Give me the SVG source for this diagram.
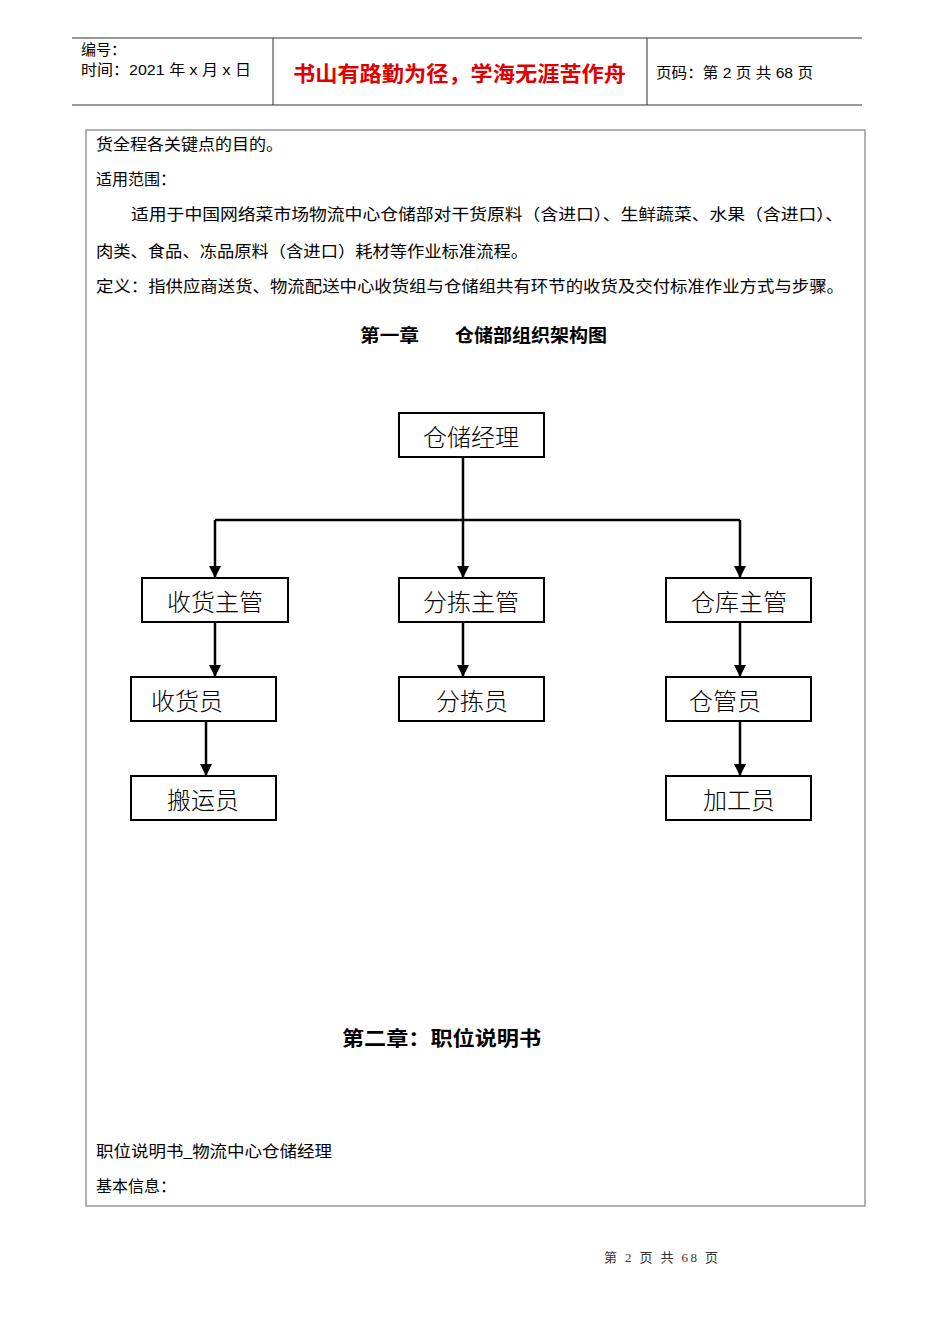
<svg xmlns="http://www.w3.org/2000/svg" width="950" height="1344" viewBox="0 0 950 1344">
<style>
.t{font-family:"Liberation Serif","Noto Sans CJK SC",serif;fill:#000;}
.s{font-family:"Liberation Sans","Noto Sans CJK SC",sans-serif;fill:#000;}
.body{font-size:16px;}
.node rect{fill:#fff;stroke:#000;stroke-width:2;}
.node text{font-family:"Liberation Serif","Noto Sans CJK SC",serif;font-size:24px;font-weight:300;fill:#000;}
.conn path{fill:none;stroke:#000;stroke-width:2.5;}
</style>
<defs>
<marker id="ah" markerWidth="12" markerHeight="12" viewBox="0 0 12 12" refX="12" refY="6" orient="auto" markerUnits="userSpaceOnUse">
<path d="M0,0 L12,6 L0,12 z" fill="#000"/>
</marker>
</defs>
<rect x="0" y="0" width="950" height="1344" fill="#fff"/>
<g id="header">
<line x1="72" y1="38" x2="862" y2="38" stroke="#333" stroke-width="1"/>
<line x1="72" y1="105" x2="862" y2="105" stroke="#333" stroke-width="1"/>
<line x1="273" y1="38" x2="273" y2="105" stroke="#333" stroke-width="1"/>
<line x1="647" y1="38" x2="647" y2="105" stroke="#333" stroke-width="1"/>
<text class="s" x="81" y="55" font-size="15">编号：</text>
<text class="s" x="81" y="75" font-size="15" textLength="170" lengthAdjust="spacingAndGlyphs">时间：2021 年 x 月 x 日</text>
<text class="s" x="293" y="81" font-size="21" font-weight="bold" style="fill:#e00000" textLength="333" lengthAdjust="spacingAndGlyphs">书山有路勤为径，学海无涯苦作舟</text>
<text class="s" x="656" y="78" font-size="15" textLength="157" lengthAdjust="spacingAndGlyphs">页码：第 2 页  共 68 页</text>
</g>
<rect x="86" y="130" width="779" height="1076" fill="none" stroke="#666" stroke-width="1"/>
<g id="intro">
<text class="t body" x="96" y="150" textLength="187" lengthAdjust="spacingAndGlyphs">货全程各关键点的目的。</text>
<text class="t body" x="96" y="185">适用范围：</text>
<text class="t body" x="131" y="220" textLength="712" lengthAdjust="spacingAndGlyphs">适用于中国网络菜市场物流中心仓储部对干货原料（含进口）、生鲜蔬菜、水果（含进口）、</text>
<text class="t body" x="96" y="257" textLength="432" lengthAdjust="spacingAndGlyphs">肉类、食品、冻品原料（含进口）耗材等作业标准流程。</text>
<text class="t body" x="96" y="292" textLength="748" lengthAdjust="spacingAndGlyphs">定义：指供应商送货、物流配送中心收货组与仓储组共有环节的收货及交付标准作业方式与步骤。</text>
<text class="t" x="360" y="342" font-size="18" font-weight="bold" textLength="59" lengthAdjust="spacingAndGlyphs">第一章</text>
<text class="t" x="455" y="342" font-size="18" font-weight="bold" textLength="152" lengthAdjust="spacingAndGlyphs">仓储部组织架构图</text>
</g>
<g id="connectors" class="conn">
<path d="M463,457 V578" marker-end="url(#ah)"/>
<path d="M215,520 H740"/>
<path d="M215,520 V578" marker-end="url(#ah)"/>
<path d="M740,520 V578" marker-end="url(#ah)"/>
<path d="M215,622 V677" marker-end="url(#ah)"/>
<path d="M463,622 V677" marker-end="url(#ah)"/>
<path d="M740,622 V677" marker-end="url(#ah)"/>
<path d="M206,721 V776" marker-end="url(#ah)"/>
<path d="M740,721 V776" marker-end="url(#ah)"/>
</g>
<g id="n_manager" class="node"><rect x="399" y="413" width="145" height="44"/><text x="471" y="446" text-anchor="middle">仓储经理</text></g>
<g id="n_recv_sup" class="node"><rect x="142" y="578" width="146" height="44"/><text x="215" y="611" text-anchor="middle">收货主管</text></g>
<g id="n_sort_sup" class="node"><rect x="399" y="578" width="145" height="44"/><text x="471" y="611" text-anchor="middle">分拣主管</text></g>
<g id="n_wh_sup" class="node"><rect x="666" y="578" width="145" height="44"/><text x="739" y="611" text-anchor="middle">仓库主管</text></g>
<g id="n_recv" class="node"><rect x="131" y="677" width="145" height="44"/><text x="151" y="710">收货员</text></g>
<g id="n_sort" class="node"><rect x="399" y="677" width="145" height="44"/><text x="472" y="710" text-anchor="middle">分拣员</text></g>
<g id="n_keeper" class="node"><rect x="666" y="677" width="145" height="44"/><text x="689" y="710">仓管员</text></g>
<g id="n_porter" class="node"><rect x="131" y="776" width="145" height="44"/><text x="203" y="809" text-anchor="middle">搬运员</text></g>
<g id="n_process" class="node"><rect x="666" y="776" width="145" height="44"/><text x="739" y="809" text-anchor="middle">加工员</text></g>
<g id="ch2">
<text class="t" x="342" y="1046" font-size="20" font-weight="bold" textLength="199" lengthAdjust="spacingAndGlyphs">第二章：职位说明书</text>
<text class="t body" x="96" y="1157" textLength="236" lengthAdjust="spacingAndGlyphs">职位说明书_物流中心仓储经理</text>
<text class="t body" x="96" y="1192">基本信息：</text>
</g>
<text class="t" x="604" y="1262" font-size="13" style="fill:#333" textLength="114" lengthAdjust="spacing">第 2 页 共 68 页</text>
</svg>
